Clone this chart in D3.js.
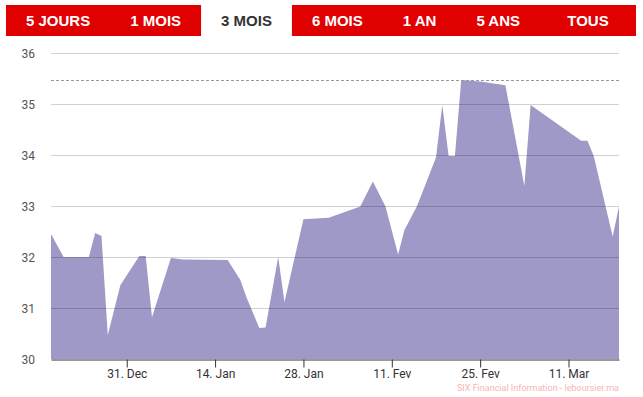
<!DOCTYPE html>
<html>
<head>
<meta charset="utf-8">
<script src="https://cdn.jsdelivr.net/npm/d3@7"></script>
<style>
  body { margin: 0; background: #fff; }
  svg { display: block; }
</style>
</head>
<body>
<div id="chart"></div>
<script>
// range tabs above the chart
var tabLabels = ["5 JOURS", "1 MOIS", "3 MOIS", "6 MOIS", "1 AN", "5 ANS", "TOUS"];
var activeTab = "3 MOIS";

// price series (3 months)
var dates = ["2017-12-19", "2017-12-21", "2017-12-25", "2017-12-26", "2017-12-27", "2017-12-28",
  "2017-12-30", "2018-01-02", "2018-01-03", "2018-01-04", "2018-01-07", "2018-01-09",
  "2018-01-16", "2018-01-18", "2018-01-19", "2018-01-21", "2018-01-22", "2018-01-24",
  "2018-01-25", "2018-01-28", "2018-02-01", "2018-02-06", "2018-02-08", "2018-02-10",
  "2018-02-12", "2018-02-13", "2018-02-15", "2018-02-18", "2018-02-19", "2018-02-20",
  "2018-02-21", "2018-02-22", "2018-02-25", "2018-03-01", "2018-03-04", "2018-03-05",
  "2018-03-13", "2018-03-14", "2018-03-15", "2018-03-18", "2018-03-19"];
var values = [32.45, 32.0, 32.0, 32.47, 32.41, 30.47,
  31.45, 32.02, 32.02, 30.82, 31.98, 31.95,
  31.94, 31.55, 31.2, 30.61, 30.62, 32.0,
  31.12, 32.74, 32.77, 32.99, 33.48, 32.99,
  32.05, 32.53, 33.0, 33.95, 34.98, 33.98,
  33.98, 35.47, 35.44, 35.37, 33.39, 34.98,
  34.28, 34.28, 33.98, 32.4, 32.99];

// axes
var yTicks = [30, 31, 32, 33, 34, 35, 36];
var xTickDates = ["2017-12-31", "2018-01-14", "2018-01-28", "2018-02-11", "2018-02-25", "2018-03-11"];
var xTickLabels = ["31. Dec", "14. Jan", "28. Jan", "11. Fev", "25. Fev", "11. Mar"];
var credit = "SIX Financial Information - leboursier.ma";

var width = 643, height = 397;
var margin = {top: 53, right: 24, bottom: 38, left: 51};
var parse = d3.timeParse("%Y-%m-%d");

var data = dates.map(function(d, i) { return {date: parse(d), value: values[i]}; });

var svg = d3.select("#chart").append("svg")
  .attr("width", width)
  .attr("height", height);

// ---- tabs
var tabFont = "bold 15px 'Liberation Sans', Arial, sans-serif";
var tabs = svg.append("g");
var barLeft = 6, barRight = 636, pad = 20;
tabs.append("rect")
  .attr("x", barLeft).attr("y", 5)
  .attr("width", barRight - barLeft).attr("height", 31)
  .attr("fill", "#e00000");

// measure text to lay tabs out like the original
var measure = svg.append("text").style("font", tabFont);
var cursor = barLeft;
tabLabels.forEach(function(label, i) {
  measure.text(label);
  var w = measure.node().getComputedTextLength() + pad * 2;
  if (i === tabLabels.length - 1) w = barRight - cursor;
  if (label === activeTab) {
    tabs.append("rect")
      .attr("x", cursor).attr("y", 5)
      .attr("width", w).attr("height", 31)
      .attr("fill", "#fff");
  }
  tabs.append("text")
    .attr("x", cursor + w / 2)
    .attr("y", 26)
    .attr("text-anchor", "middle")
    .style("font", tabFont)
    .attr("fill", label === activeTab ? "#333" : "#fff")
    .text(label);
  cursor += w;
});
measure.remove();

// ---- scales
var x = d3.scaleTime()
  .domain(d3.extent(data, function(d) { return d.date; }))
  .range([margin.left, width - margin.right]);

var y = d3.scaleLinear()
  .domain([30, 36])
  .range([height - margin.bottom, margin.top]);

// area
svg.append("path")
  .datum(data)
  .attr("fill", "#9e99c6")
  .attr("d", d3.area()
    .x(function(d) { return x(d.date); })
    .y0(y(30))
    .y1(function(d) { return y(d.value); }));

// gridlines, drawn over the area so they show through darker
svg.append("g")
  .selectAll("line")
  .data(yTicks.slice(1))
  .enter().append("line")
  .attr("x1", margin.left).attr("x2", width - margin.right)
  .attr("y1", function(d) { return Math.round(y(d)) + 0.5; })
  .attr("y2", function(d) { return Math.round(y(d)) + 0.5; })
  .attr("stroke", "#000")
  .attr("stroke-opacity", 0.18);

// dashed line at the high
var hi = d3.max(values);
svg.append("line")
  .attr("x1", margin.left).attr("x2", width - margin.right)
  .attr("y1", Math.round(y(hi)) + 0.5).attr("y2", Math.round(y(hi)) + 0.5)
  .attr("stroke", "#999")
  .attr("stroke-dasharray", "3,2");

// y labels
svg.append("g")
  .selectAll("text")
  .data(yTicks)
  .enter().append("text")
  .attr("x", 35)
  .attr("y", function(d) { return y(d) + 5; })
  .attr("text-anchor", "end")
  .style("font", "12px Roboto, sans-serif")
  .attr("fill", "#555")
  .text(function(d) { return d; });

// x axis
var xAxis = d3.axisBottom(x)
  .tickValues(xTickDates.map(parse))
  .tickFormat(function(d, i) { return xTickLabels[i]; })
  .tickSize(8)
  .tickSizeOuter(0);

var gx = svg.append("g")
  .attr("transform", "translate(0," + (Math.round(y(30)) + 0.5) + ")")
  .call(xAxis);
gx.select(".domain").attr("stroke", "#333");
gx.selectAll(".tick line").attr("stroke", "#333");
gx.selectAll(".tick text")
  .attr("y", 10)
  .style("font", "12px Roboto, sans-serif")
  .attr("fill", "#333");

// credit
svg.append("text")
  .attr("x", width - margin.right)
  .attr("y", 391)
  .attr("text-anchor", "end")
  .style("font", "9px Roboto, sans-serif")
  .attr("fill", "#f7b4b4")
  .text(credit);
</script>
</body>
</html>
